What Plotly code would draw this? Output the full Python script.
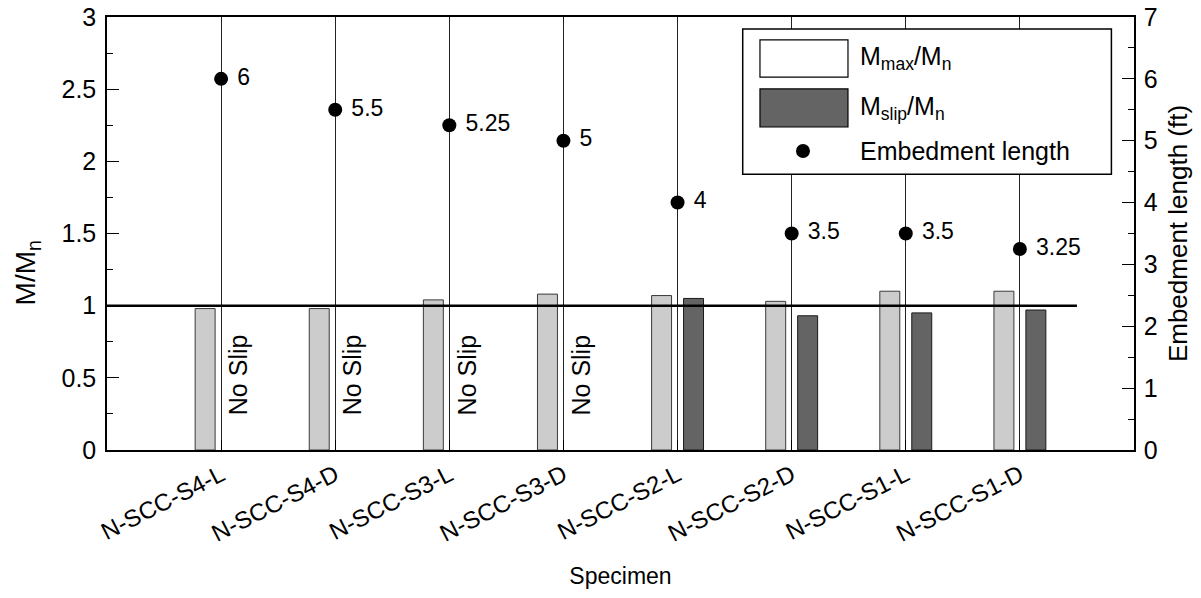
import plotly.graph_objects as go

# Specimens and measured ratios
specimens = ["N-SCC-S4-L", "N-SCC-S4-D", "N-SCC-S3-L", "N-SCC-S3-D",
             "N-SCC-S2-L", "N-SCC-S2-D", "N-SCC-S1-L", "N-SCC-S1-D"]
m_max_ratio = [0.98, 0.98, 1.04, 1.08, 1.07, 1.03, 1.10, 1.10]
m_slip_ratio = [None, None, None, None, 1.05, 0.93, 0.95, 0.97]
embed_length_ft = [6, 5.5, 5.25, 5, 4, 3.5, 3.5, 3.25]
reference_ratio = 1.0

pos = list(range(1, len(specimens) + 1))
FONT = "Liberation Sans, Arial, sans-serif"
FS = 24
bar_w = 0.175

fig = go.Figure()

fig.add_trace(go.Bar(
    x=pos, y=m_max_ratio, width=bar_w, offset=-0.14 - bar_w / 2,
    marker=dict(color="#cccccc", line=dict(color="#3a3a3a", width=1)),
    showlegend=False, yaxis="y",
))
fig.add_trace(go.Bar(
    x=pos, y=m_slip_ratio, width=bar_w, offset=0.14 - bar_w / 2,
    marker=dict(color="#646464", line=dict(color="#1a1a1a", width=1)),
    showlegend=False, yaxis="y",
))
fig.add_trace(go.Scatter(
    x=pos, y=embed_length_ft, yaxis="y2", mode="markers+text",
    marker=dict(color="black", size=14),
    text=[" " + f"{v:g}" for v in embed_length_ft], textposition="middle right",
    textfont=dict(family=FONT, size=23, color="black"),
    showlegend=False, cliponaxis=False,
))

shapes = [dict(type="line", xref="x", yref="y", x0=0, x1=8.5,
               y0=reference_ratio, y1=reference_ratio,
               line=dict(color="black", width=2.5), layer="above")]
annotations = []

# "No Slip" markers where no slip value exists
for p, s in zip(pos, m_slip_ratio):
    if s is None:
        annotations.append(dict(x=p + 0.15, y=0.52, xref="x", yref="y",
                                text="No Slip", textangle=-90, showarrow=False,
                                font=dict(family=FONT, size=25, color="black")))

# Left axis title, set slightly below the vertical middle
annotations.append(dict(x=-0.077, y=0.41, xref="paper", yref="paper",
                        text="M/M<sub>n</sub>", textangle=-90, showarrow=False,
                        xanchor="center", yanchor="middle",
                        font=dict(family=FONT, size=28, color="black")))

# Boxed key in the upper right
shapes += [
    dict(type="rect", xref="paper", yref="paper", x0=0.619, x1=0.978, y0=0.637, y1=0.972,
         line=dict(color="black", width=1.5), fillcolor="white", layer="above"),
    dict(type="rect", xref="paper", yref="paper", x0=0.6358, x1=0.7215, y0=0.861, y1=0.947,
         line=dict(color="black", width=1.2), fillcolor="white", layer="above"),
    dict(type="rect", xref="paper", yref="paper", x0=0.6358, x1=0.7215, y0=0.746, y1=0.834,
         line=dict(color="black", width=1.2), fillcolor="#646464", layer="above"),
    dict(type="circle", xref="paper", yref="paper", x0=0.6709, x1=0.6845, y0=0.6745, y1=0.7065,
         line=dict(color="black", width=0), fillcolor="black", layer="above"),
]
for txt, yy in [("M<sub>max</sub>/M<sub>n</sub>", 0.905),
                ("M<sub>slip</sub>/M<sub>n</sub>", 0.79),
                ("Embedment length", 0.69)]:
    annotations.append(dict(x=0.7313, y=yy, xref="paper", yref="paper", text=txt,
                            xanchor="left", yanchor="middle", showarrow=False,
                            font=dict(family=FONT, size=25, color="black")))

fig.update_layout(
    width=1201, height=598,
    margin=dict(l=107, r=67, t=17, b=148),
    paper_bgcolor="white", plot_bgcolor="white",
    font=dict(family=FONT, size=FS, color="black"),
    barmode="overlay",
    shapes=shapes, annotations=annotations,
    xaxis=dict(
        range=[0, 9], tickmode="array", tickvals=pos, ticktext=specimens,
        tickangle=-27, ticks="inside", ticklen=10, tickcolor="black",
        showline=True, linecolor="black", linewidth=1.5, mirror=True,
        showgrid=True, gridcolor="#222222", gridwidth=1, zeroline=False,
        title=dict(text="Specimen", standoff=22, font=dict(family=FONT, size=23)),
        automargin=False, tickfont=dict(size=FS),
    ),
    yaxis=dict(
        range=[0, 3], dtick=0.5, ticks="inside", ticklen=12, ticklabelstandoff=4,
        tickcolor="black", minor=dict(dtick=0.25, ticks="inside", ticklen=6, tickcolor="black"),
        showline=True, linecolor="black", linewidth=1.5, mirror=True,
        showgrid=False, zeroline=False, automargin=False,
        tickfont=dict(size=25),
    ),
    yaxis2=dict(
        range=[0, 7], dtick=1, overlaying="y", side="right", ticks="inside", ticklen=12,
        ticklabelstandoff=3,
        tickcolor="black", minor=dict(dtick=0.5, ticks="inside", ticklen=6, tickcolor="black"),
        showline=True, linecolor="black", linewidth=1.5,
        showgrid=False, zeroline=False, automargin=False,
        tickfont=dict(size=25),
        title=dict(text="Embedment length (ft)", standoff=12, font=dict(family=FONT, size=26)),
    ),
)

fig.write_html("out.html")
